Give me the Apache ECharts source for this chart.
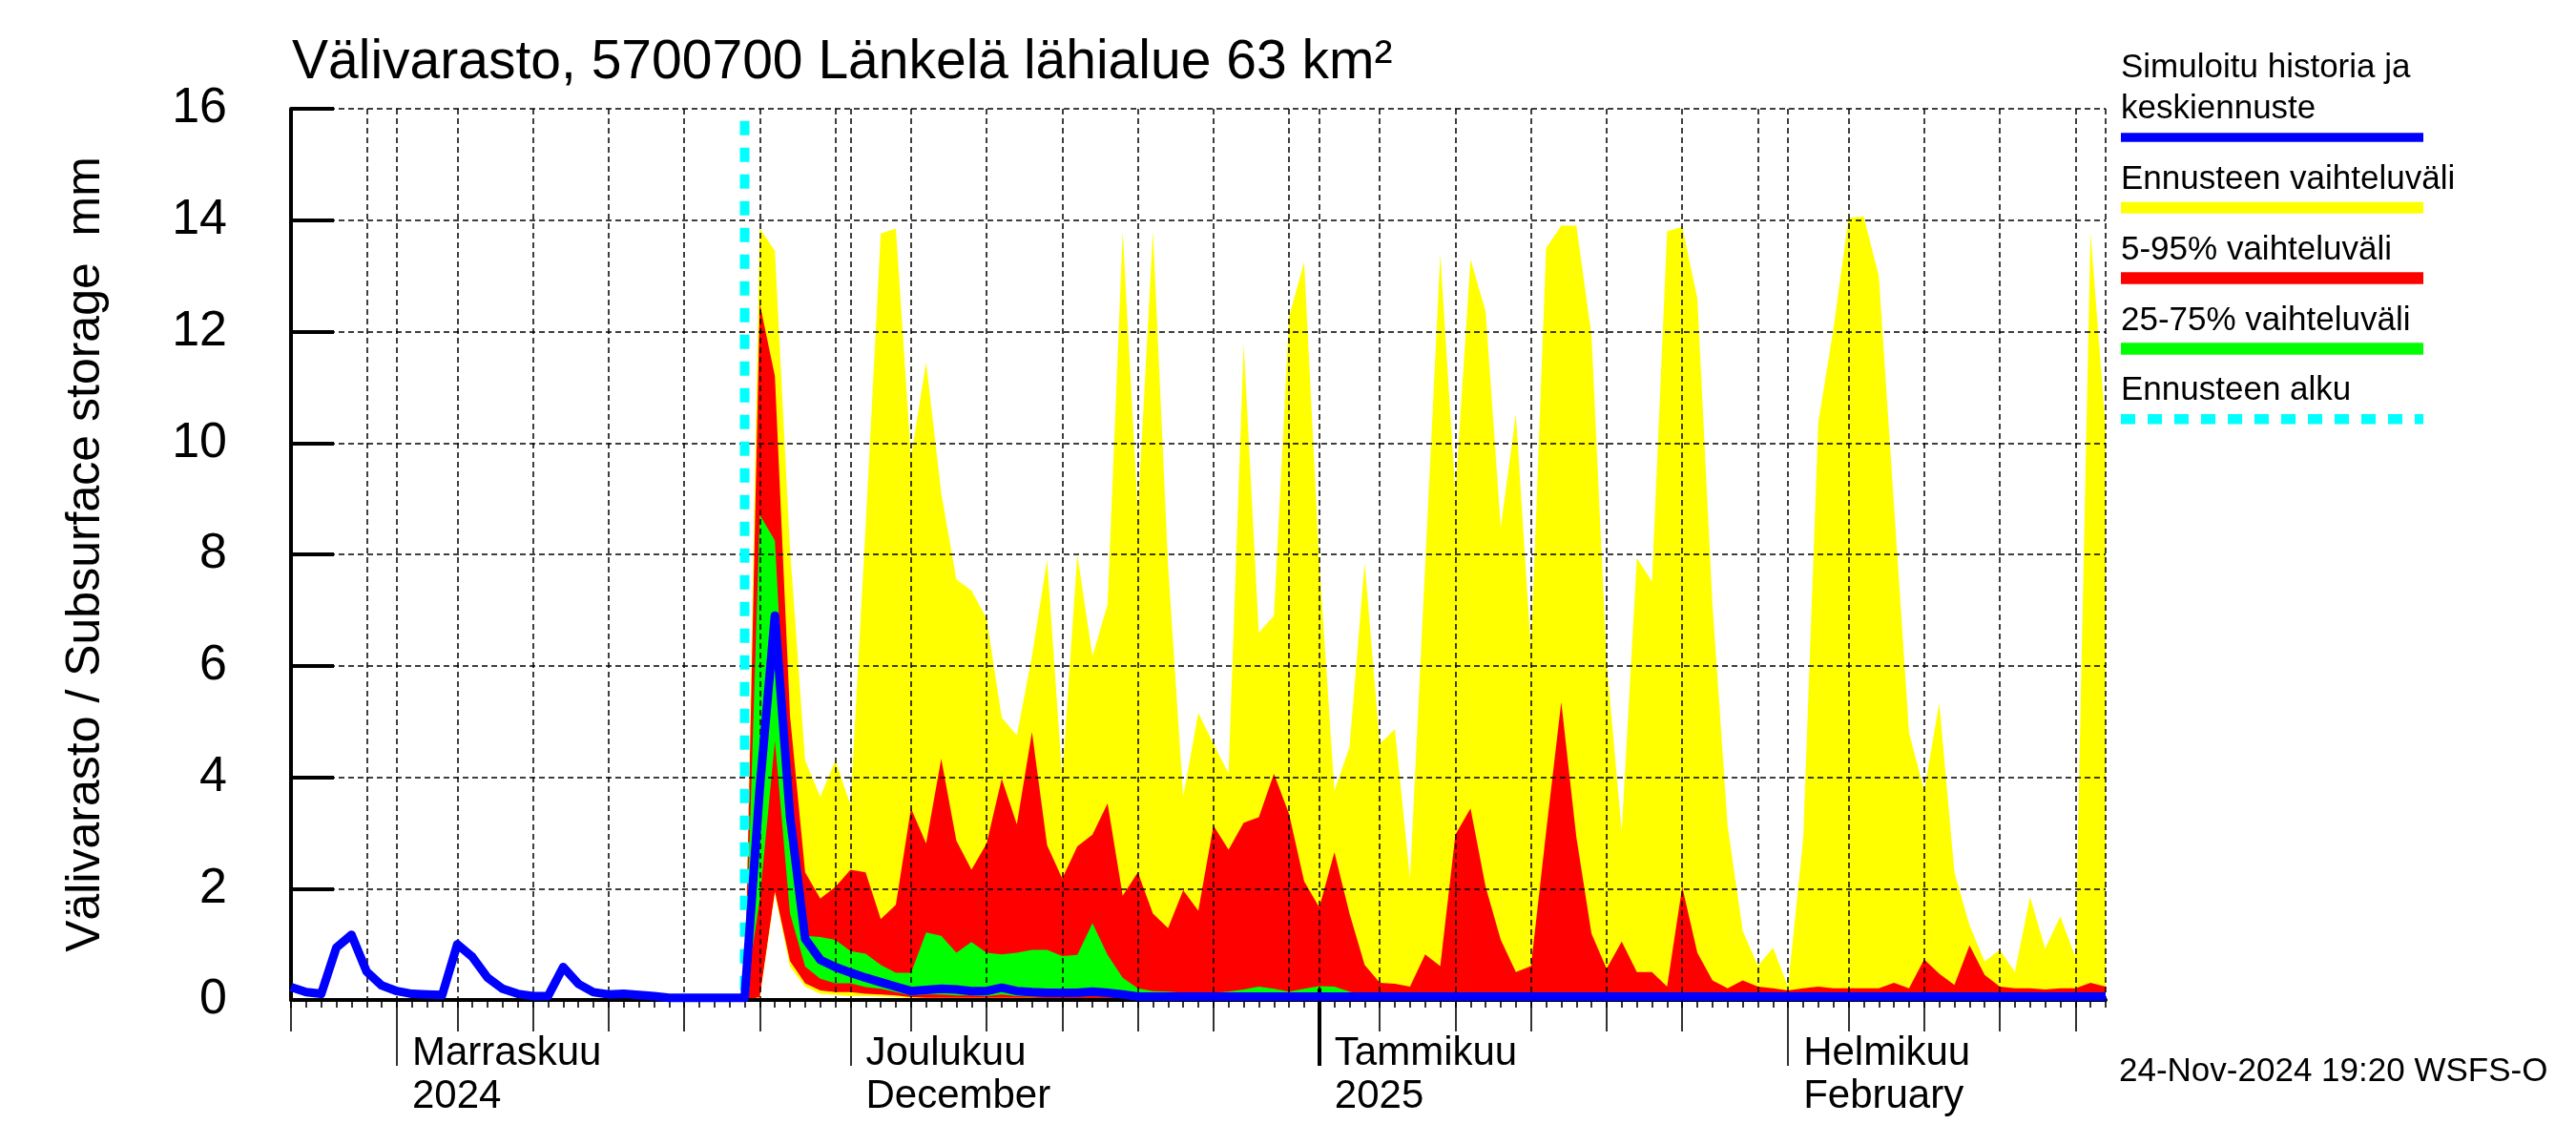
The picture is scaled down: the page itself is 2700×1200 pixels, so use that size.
<!DOCTYPE html>
<html>
<head>
<meta charset="utf-8">
<script src="https://cdn.jsdelivr.net/npm/echarts@6/dist/echarts.min.js"></script>
<style>
html,body{margin:0;padding:0;background:#ffffff;}
#chart{width:2700px;height:1200px;}
</style>
</head>
<body>
<div id="chart"></div>
<script>
// ---------------- data ----------------
const startDate = '2024-10-25';
const dayCount = 121;                 // 2024-10-25 .. 2025-02-22
const forecastStart = '2024-11-24';
const forecastMarkerTop = 15.78;

const titleText = 'Välivarasto, 5700700 Länkelä lähialue 63 km²';
const yAxisName = 'Välivarasto / Subsurface storage  mm';
const stampText = '24-Nov-2024 19:20 WSFS-O';

// month tick labels (placed at the first day of each month)
const monthLabelDates = ['2024-11-01', '2024-12-01', '2025-01-01', '2025-02-01'];
const monthLabelTexts = ['Marraskuu\n2024', 'Joulukuu\nDecember', 'Tammikuu\n2025', 'Helmikuu\nFebruary'];
const yearStartDate = '2025-01-01';
const gridLineDays = [1, 5, 10, 15, 20, 25, 30];
const mediumTickDays = [5, 10, 15, 20, 25];

// simulated history, 2024-10-25 .. 2024-11-24
const simulatedHistory = [
  0.23, 0.14, 0.11, 0.94, 1.17, 0.51, 0.26, 0.16, 0.11, 0.10,
  0.09, 1.00, 0.77, 0.40, 0.20, 0.11, 0.07, 0.07, 0.59, 0.29,
  0.14, 0.10, 0.11, 0.09, 0.07, 0.04, 0.04, 0.04, 0.04, 0.04,
  0.04
];
// mean forecast, 2024-11-25 .. 2025-02-22
const meanForecast = [
  3.80, 6.90, 3.30, 1.10, 0.72, 0.59, 0.49, 0.40, 0.32, 0.24,
  0.16, 0.18, 0.20, 0.19, 0.16, 0.16, 0.22, 0.16, 0.14, 0.13,
  0.13, 0.13, 0.15, 0.13, 0.10, 0.06, 0.06, 0.06, 0.06, 0.06,
  0.06, 0.06, 0.06, 0.06, 0.06, 0.06, 0.06, 0.06, 0.06, 0.06,
  0.06, 0.06, 0.06, 0.06, 0.06, 0.06, 0.06, 0.06, 0.06, 0.06,
  0.06, 0.06, 0.06, 0.06, 0.06, 0.06, 0.06, 0.06, 0.06, 0.06,
  0.06, 0.06, 0.06, 0.06, 0.06, 0.06, 0.06, 0.06, 0.06, 0.06,
  0.06, 0.06, 0.06, 0.06, 0.06, 0.06, 0.06, 0.06, 0.06, 0.06,
  0.06, 0.06, 0.06, 0.06, 0.06, 0.06, 0.06, 0.06, 0.06, 0.06
];

// forecast bands, 2024-11-24 .. 2025-02-22
const bandMax = [
  0, 13.85, 13.45, 8.1, 4.3, 3.65, 4.3, 3.5, 8.5, 13.76,
  13.85, 9.74, 11.45, 9.1, 7.55, 7.35, 6.85, 5.07, 4.75, 6.17,
  7.9, 4.0, 8.0, 6.17, 7.1, 13.8, 8.74, 13.8, 7.8, 3.65,
  5.15, 4.6, 4.07, 11.78, 6.59, 6.9, 12.26, 13.25, 7.85, 3.76,
  4.54, 7.85, 4.6, 4.86, 2.18, 7.8, 13.39, 9.1, 13.3, 12.36,
  8.48, 10.52, 6.27, 13.5, 13.9, 13.9, 11.94, 6.07, 3.02, 7.93,
  7.51, 13.8, 13.88, 12.6, 7.1, 3.13, 1.24, 0.61, 0.94, 0.24,
  2.9, 10.37, 12.05, 14.04, 14.07, 13.0, 8.9, 4.8, 3.76, 5.33,
  2.29, 1.34, 0.69, 0.9, 0.5, 1.85, 0.92, 1.5, 0.77, 13.78,
  10.26
];
const bandP95 = [
  0, 12.5, 11.2, 5.1, 2.29, 1.82, 2.03, 2.34, 2.29, 1.45,
  1.71, 3.44, 2.81, 4.33, 2.86, 2.34, 2.81, 3.97, 3.15, 4.81,
  2.78, 2.18, 2.76, 2.97, 3.53, 1.87, 2.29, 1.55, 1.29, 1.97,
  1.6, 3.13, 2.7, 3.18, 3.28, 4.06, 3.34, 2.13, 1.66, 2.65,
  1.55, 0.63, 0.31, 0.29, 0.24, 0.82, 0.61, 2.97, 3.44, 2.03,
  1.08, 0.5, 0.61, 3.02, 5.35, 2.92, 1.19, 0.56, 1.05, 0.5,
  0.5, 0.24, 2.03, 0.85, 0.35, 0.21, 0.35, 0.24, 0.21, 0.17,
  0.21, 0.24, 0.21, 0.21, 0.21, 0.21, 0.31, 0.21, 0.73, 0.47,
  0.27, 0.98, 0.45, 0.24, 0.21, 0.21, 0.19, 0.21, 0.21, 0.31,
  0.24
];
const bandP75 = [
  0, 8.71, 8.25, 3.2, 1.15, 1.13, 1.08, 0.88, 0.83, 0.63,
  0.49, 0.49, 1.21, 1.15, 0.85, 1.04, 0.85, 0.82, 0.85, 0.9,
  0.9, 0.79, 0.81, 1.38, 0.81, 0.4, 0.21, 0.16, 0.15, 0.13,
  0.13, 0.13, 0.15, 0.19, 0.24, 0.2, 0.15, 0.2, 0.25, 0.24,
  0.15, 0.08, 0.08, 0.08, 0.08, 0.08, 0.08, 0.08, 0.08, 0.08,
  0.08, 0.08, 0.08, 0.08, 0.08, 0.08, 0.08, 0.08, 0.08, 0.08,
  0.08, 0.08, 0.08, 0.08, 0.08, 0.08, 0.08, 0.08, 0.08, 0.08,
  0.08, 0.08, 0.08, 0.08, 0.08, 0.08, 0.08, 0.08, 0.08, 0.08,
  0.08, 0.08, 0.08, 0.08, 0.08, 0.08, 0.08, 0.08, 0.08, 0.08,
  0.08
];
const bandP25 = [
  0, 1.8, 4.65, 1.55, 0.6, 0.38, 0.3, 0.3, 0.23, 0.2,
  0.14, 0.08, 0.1, 0.1, 0.08, 0.08, 0.07, 0.1, 0.07, 0.06,
  0.06, 0.06, 0.06, 0.07, 0.06, 0.05, 0.04, 0.04, 0.04, 0.04,
  0.04, 0.04, 0.04, 0.04, 0.04, 0.04, 0.04, 0.04, 0.04, 0.04,
  0.04, 0.04, 0.04, 0.04, 0.04, 0.04, 0.04, 0.04, 0.04, 0.04,
  0.04, 0.04, 0.04, 0.04, 0.04, 0.04, 0.04, 0.04, 0.04, 0.04,
  0.04, 0.04, 0.04, 0.04, 0.04, 0.04, 0.04, 0.04, 0.04, 0.04,
  0.04, 0.04, 0.04, 0.04, 0.04, 0.04, 0.04, 0.04, 0.04, 0.04,
  0.04, 0.04, 0.04, 0.04, 0.04, 0.04, 0.04, 0.04, 0.04, 0.04,
  0.04
];
const bandP5 = [
  0, 0.05, 1.95, 0.7, 0.3, 0.17, 0.14, 0.14, 0.11, 0.1,
  0.08, 0.05, 0.04, 0.04, 0.04, 0.04, 0.04, 0.04, 0.04, 0.04,
  0.03, 0.03, 0.03, 0.03, 0.03, 0.03, 0.03, 0.03, 0.03, 0.03,
  0.03, 0.03, 0.03, 0.03, 0.03, 0.03, 0.03, 0.03, 0.03, 0.03,
  0.03, 0.03, 0.03, 0.03, 0.03, 0.03, 0.03, 0.03, 0.03, 0.03,
  0.03, 0.03, 0.03, 0.03, 0.03, 0.03, 0.03, 0.03, 0.03, 0.03,
  0.03, 0.03, 0.03, 0.03, 0.03, 0.03, 0.03, 0.03, 0.03, 0.03,
  0.03, 0.03, 0.03, 0.03, 0.03, 0.03, 0.03, 0.03, 0.03, 0.03,
  0.03, 0.03, 0.03, 0.03, 0.03, 0.03, 0.03, 0.03, 0.03, 0.03,
  0.03
];
const bandMin = [
  0, 0.02, 1.9, 0.6, 0.24, 0.11, 0.09, 0.07, 0.07, 0.06,
  0.05, 0.03, 0.02, 0.02, 0.02, 0.02, 0.02, 0.02, 0.02, 0.02,
  0.02, 0.02, 0.02, 0.02, 0.02, 0.02, 0.02, 0.02, 0.02, 0.02,
  0.02, 0.02, 0.02, 0.02, 0.02, 0.02, 0.02, 0.02, 0.02, 0.02,
  0.02, 0.02, 0.02, 0.02, 0.02, 0.02, 0.02, 0.02, 0.02, 0.02,
  0.02, 0.02, 0.02, 0.02, 0.02, 0.02, 0.02, 0.02, 0.02, 0.02,
  0.02, 0.02, 0.02, 0.02, 0.02, 0.02, 0.02, 0.02, 0.02, 0.02,
  0.02, 0.02, 0.02, 0.02, 0.02, 0.02, 0.02, 0.02, 0.02, 0.02,
  0.02, 0.02, 0.02, 0.02, 0.02, 0.02, 0.02, 0.02, 0.02, 0.02,
  0.02
];

const legendNames = [
  ['Simuloitu historia ja', 'keskiennuste'],
  ['Ennusteen vaihteluväli'],
  ['5-95% vaihteluväli'],
  ['25-75% vaihteluväli'],
  ['Ennusteen alku']
];

// ---------------- build ----------------
const COLORS = { mean: '#0000ff', range: '#ffff00', p90: '#ff0000', p50: '#00ff00', start: '#00ffff' };
const FONT = '"Liberation Sans", Arial, Helvetica, sans-serif';

const categories = [];
(function () {
  const p = startDate.split('-').map(Number);
  const t0 = Date.UTC(p[0], p[1] - 1, p[2]);
  for (let i = 0; i < dayCount; i++) {
    categories.push(new Date(t0 + i * 86400000).toISOString().slice(0, 10));
  }
})();
const dom = v => parseInt(v.slice(8, 10), 10);
const monthLabelMap = {};
monthLabelDates.forEach((d, i) => { monthLabelMap[d] = monthLabelTexts[i]; });

const fcIndex = categories.indexOf(forecastStart);
const pad = arr => new Array(fcIndex).fill(null).concat(arr);
const meanSeries = simulatedHistory.concat(meanForecast);

function band(name, data, color) {
  return {
    name: name, type: 'line', data: pad(data), symbol: 'none', showSymbol: false,
    lineStyle: { width: 0 }, itemStyle: { color: color },
    areaStyle: { color: color, opacity: 1 }, silent: true, z: 2, animation: false
  };
}

function tickAxis(intervalFn, length, width, inside) {
  return {
    type: 'category', data: categories, boundaryGap: false, position: 'bottom', z: 3,
    axisLine: { show: false, onZero: false },
    axisTick: { show: true, inside: !!inside, interval: intervalFn, length: length,
      lineStyle: { color: '#000', width: width } },
    axisLabel: { show: false }, splitLine: { show: false }
  };
}

const gridDash = { color: '#000', width: 1.5, type: [6, 4] };

const legendGraphics = [];
(function () {
  const x0 = 2223, x1 = 2540;
  const barColors = [COLORS.mean, COLORS.range, COLORS.p90, COLORS.p50, COLORS.start];
  const barH = [9.5, 12, 12.5, 12.5, 10.5];
  for (let i = 0; i < legendNames.length; i++) {
    const cy = 144 + i * 73.8;
    const lines = legendNames[i];
    for (let j = 0; j < lines.length; j++) {
      legendGraphics.push({
        type: 'text', left: x0, top: cy - 29 - (lines.length - 1 - j) * 43.4 - 18,
        style: { text: lines[j], fontSize: 35, fontFamily: FONT, fill: '#000' }
      });
    }
    if (i === 4) {
      legendGraphics.push({ type: 'line', shape: { x1: x0, y1: cy, x2: x1, y2: cy },
        style: { stroke: barColors[i], lineWidth: barH[i], lineDash: [15, 13] } });
    } else {
      legendGraphics.push({ type: 'rect', shape: { x: x0, y: cy - barH[i] / 2, width: x1 - x0, height: barH[i] },
        style: { fill: barColors[i] } });
    }
  }
})();

const option = {
  animation: false,
  backgroundColor: '#ffffff',
  title: [
    { text: titleText, left: 306, top: 38, padding: 0,
      textStyle: { fontSize: 57, fontWeight: 'normal', color: '#000', fontFamily: FONT } },
    { text: stampText, left: 2221, top: 1106, padding: 0,
      textStyle: { fontSize: 35, fontWeight: 'normal', color: '#000', fontFamily: FONT } }
  ],
  grid: { left: 305, right: 493, top: 114, bottom: 152, containLabel: false },
  xAxis: [
    {
      type: 'category', data: categories, boundaryGap: false, position: 'bottom', z: 3,
      axisLine: { show: true, onZero: false, lineStyle: { color: '#000', width: 4 } },
      axisTick: { show: true, interval: 0, length: 8, lineStyle: { color: '#000', width: 1.6 } },
      axisLabel: {
        show: true, interval: (i, v) => !!monthLabelMap[v], formatter: v => monthLabelMap[v] || '',
        align: 'left', verticalAlign: 'top', fontSize: 42, lineHeight: 45, color: '#000',
        fontFamily: FONT, margin: 34, padding: [0, 0, 0, 16]
      },
      splitLine: { show: true, interval: (i, v) => gridLineDays.indexOf(dom(v)) >= 0 || i === categories.length - 1,
        lineStyle: gridDash }
    },
    tickAxis((i, v) => mediumTickDays.indexOf(dom(v)) >= 0, 33, 1.6, false),
    tickAxis((i, v) => dom(v) === 1 && v !== yearStartDate, 69, 1.6, false),
    tickAxis((i, v) => v === yearStartDate, 69, 4, false),
    tickAxis((i, v) => v === yearStartDate, 12, 4, true)
  ],
  yAxis: {
    type: 'value', min: 0, max: 16, interval: 2, z: 3,
    axisLine: { show: true, lineStyle: { color: '#000', width: 4 } },
    axisTick: { show: true, inside: true, length: 45, lineStyle: { color: '#000', width: 4 } },
    axisLabel: { fontSize: 52, color: '#000', fontFamily: FONT, margin: 67, padding: [0, 0, 15, 0] },
    splitLine: { show: true, lineStyle: gridDash },
    name: yAxisName, nameLocation: 'middle', nameRotate: 90, nameGap: 190,
    nameTextStyle: { fontSize: 50, color: '#000', fontFamily: FONT }
  },
  series: [
    band(legendNames[1].join(' '), bandMax, COLORS.range),
    band(legendNames[2][0], bandP95, COLORS.p90),
    band(legendNames[3][0], bandP75, COLORS.p50),
    band('25%', bandP25, COLORS.p90),
    band('5%', bandP5, COLORS.range),
    band('min', bandMin, '#ffffff'),
    {
      name: legendNames[4][0], type: 'line', symbol: 'none', silent: true, z: 4,
      data: [[forecastStart, forecastMarkerTop], [forecastStart, 0]],
      lineStyle: { color: COLORS.start, width: 10, type: [15, 13], cap: 'butt' }
    },
    {
      name: legendNames[0].join(' '), type: 'line', data: meanSeries, symbol: 'none', showSymbol: false,
      silent: true, z: 5, lineStyle: { color: COLORS.mean, width: 9, join: 'round' }
    }
  ],
  graphic: legendGraphics
};

const chart = echarts.init(document.getElementById('chart'), null, { renderer: 'canvas', width: 2700, height: 1200 });
chart.setOption(option);
</script>
</body>
</html>
